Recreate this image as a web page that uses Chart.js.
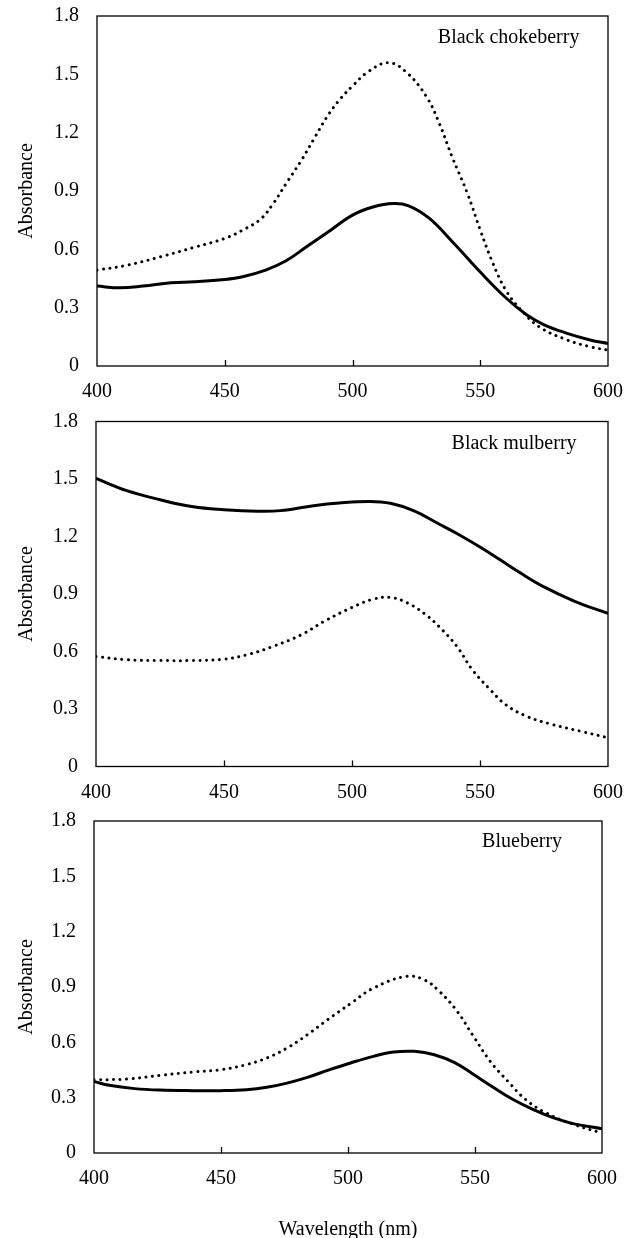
<!DOCTYPE html>
<html>
<head>
<meta charset="utf-8">
<script src="https://cdn.jsdelivr.net/npm/chart.js@4"></script>
<style>
  html, body { margin: 0; padding: 0; background: #fff; overflow: hidden; }
  body { width: 636px; height: 1238px; position: relative; }
  canvas { position: absolute; left: 0; }
</style>
</head>
<body>
<canvas id="c1"></canvas>
<canvas id="c2"></canvas>
<canvas id="c3"></canvas>
<script>
// axis ticks
const xTicks = [400, 450, 500, 550, 600];
const yTicks = [0, 0.3, 0.6, 0.9, 1.2, 1.5, 1.8];

// Black chokeberry
const chokeSolidWl = [400, 409, 418, 429, 438, 450, 457, 466, 474, 482, 490, 500, 508, 516, 522, 530, 540, 550, 560, 568, 575, 584, 593, 600];
const chokeSolidAbs = [0.411, 0.402, 0.411, 0.428, 0.433, 0.445, 0.459, 0.493, 0.541, 0.613, 0.685, 0.776, 0.818, 0.836, 0.824, 0.760, 0.626, 0.483, 0.351, 0.265, 0.212, 0.168, 0.134, 0.116];
const chokeDotWl = [400, 412, 425, 438, 450, 457, 464, 469, 474, 480, 485, 490, 495, 500, 506, 514, 521, 529, 534, 539, 545, 550, 555, 560, 566, 573, 584, 593, 600];
const chokeDotAbs = [0.493, 0.519, 0.562, 0.610, 0.656, 0.699, 0.755, 0.836, 0.938, 1.058, 1.170, 1.281, 1.370, 1.440, 1.512, 1.560, 1.512, 1.384, 1.247, 1.075, 0.887, 0.699, 0.527, 0.390, 0.288, 0.202, 0.134, 0.099, 0.082];

// Black mulberry
const mulSolidWl = [400, 412, 425, 438, 450, 463, 472, 485, 495, 507, 515, 524, 534, 542, 550, 558, 566, 575, 587, 600];
const mulSolidAbs = [1.503, 1.439, 1.392, 1.355, 1.340, 1.332, 1.335, 1.361, 1.375, 1.383, 1.373, 1.335, 1.265, 1.208, 1.145, 1.077, 1.008, 0.937, 0.862, 0.799];
const mulDotWl = [400, 412, 425, 438, 450, 459, 469, 480, 490, 500, 508, 515, 522, 529, 534, 541, 547, 554, 560, 568, 578, 589, 600];
const mulDotAbs = [0.574, 0.557, 0.553, 0.553, 0.560, 0.583, 0.626, 0.686, 0.764, 0.830, 0.872, 0.882, 0.851, 0.790, 0.730, 0.626, 0.505, 0.401, 0.323, 0.263, 0.220, 0.185, 0.150];

// Blueberry
const blueSolidWl = [400, 406, 416, 426, 439, 450, 460, 468, 476, 484, 492, 501, 510, 518, 526, 534, 542, 549, 557, 565, 573, 581, 589, 600];
const blueSolidAbs = [0.388, 0.367, 0.349, 0.341, 0.338, 0.338, 0.343, 0.356, 0.379, 0.410, 0.448, 0.488, 0.524, 0.547, 0.551, 0.533, 0.490, 0.430, 0.358, 0.290, 0.235, 0.190, 0.158, 0.132];
const blueDotWl = [400, 413, 426, 439, 450, 460, 468, 476, 484, 492, 501, 510, 523, 530, 536, 543, 549, 556, 563, 570, 578, 589, 600];
const blueDotAbs = [0.397, 0.401, 0.421, 0.439, 0.452, 0.479, 0.515, 0.569, 0.641, 0.723, 0.810, 0.894, 0.958, 0.939, 0.876, 0.768, 0.641, 0.497, 0.388, 0.289, 0.217, 0.154, 0.108];

const panelNames = ["Black chokeberry", "Black mulberry", "Blueberry"];
const xTitle = "Wavelength (nm)";
const yTitle = "Absorbance";

const FONT = '"Liberation Serif", "Times New Roman", serif';

function pts(xs, ys) {
    return xs.map((x, i) => ({ x: x, y: ys[i] }));
}

// frame, inward x ticks and panel name
const framePlugin = {
    id: "frame",
    afterDatasetsDraw(chart, args, opts) {
        let ctx = chart.ctx;
        let a = chart.chartArea;
        let xs = chart.scales.x;
        let ys = chart.scales.y;
        ctx.save();
        ctx.strokeStyle = "#000";
        ctx.lineWidth = 1.3;
        ctx.strokeRect(a.left, a.top, a.right - a.left, a.bottom - a.top);
        xTicks.slice(1, -1).forEach(v => {
            let px = Math.round(xs.getPixelForValue(v)) + 0.5;
            ctx.beginPath();
            ctx.moveTo(px, a.bottom);
            ctx.lineTo(px, a.bottom - 6);
            ctx.stroke();
        });
        ctx.fillStyle = "#000";
        ctx.font = "20px " + FONT;
        ctx.textAlign = "left";
        ctx.textBaseline = "middle";
        ctx.fillText(opts.text, xs.getPixelForValue(opts.at[0]), ys.getPixelForValue(opts.at[1]));
        ctx.restore();
    }
};

function makePanel(id, layout, name, labelAt, solid, dotted, showXTitle) {
    let cv = document.getElementById(id);
    cv.width = 636;
    cv.height = layout.h;
    cv.style.top = layout.top + "px";
    new Chart(cv, {
        type: "line",
        data: {
            datasets: [
                {
                    label: "solid",
                    data: solid,
                    borderColor: "#000",
                    borderWidth: 3,
                    pointRadius: 0,
                    tension: 0.4,
                    fill: false
                },
                {
                    label: "dotted",
                    data: dotted,
                    borderColor: "#000",
                    borderWidth: 3,
                    borderDash: [0.01, 6.5],
                    borderCapStyle: "round",
                    pointRadius: 0,
                    tension: 0.4,
                    fill: false
                }
            ]
        },
        options: {
            responsive: false,
            animation: false,
            layout: { padding: { top: layout.areaTop, right: 636 - layout.areaRight, left: 0, bottom: 0 } },
            plugins: {
                legend: { display: false },
                tooltip: { enabled: false },
                frame: { text: name, at: labelAt }
            },
            scales: {
                x: {
                    type: "linear",
                    min: 400,
                    max: 600,
                    afterBuildTicks: s => { s.ticks = xTicks.map(v => ({ value: v })); },
                    grid: { display: false, drawTicks: false },
                    border: { display: false },
                    ticks: { color: "#000", font: { family: FONT, size: 20 }, padding: 14, maxRotation: 0 },
                    title: {
                        display: showXTitle,
                        text: xTitle,
                        color: "#000",
                        font: { family: FONT, size: 20 },
                        padding: { top: 0, bottom: 4 }
                    },
                    afterFit: s => {
                        s.height = layout.h - layout.areaBottom;
                        s.paddingLeft = 0;
                        s.paddingRight = 0;
                    }
                },
                y: {
                    min: 0,
                    max: 1.8,
                    afterBuildTicks: s => { s.ticks = yTicks.map(v => ({ value: v })); },
                    grid: { display: false, drawTicks: false },
                    border: { display: false },
                    ticks: {
                        color: "#000",
                        font: { family: FONT, size: 20 },
                        padding: 18,
                        callback: v => v === 0 ? "0" : v.toFixed(1)
                    },
                    title: {
                        display: true,
                        text: yTitle,
                        color: "#000",
                        font: { family: FONT, size: 20 },
                        padding: { top: 15, bottom: 0 }
                    },
                    afterFit: s => {
                        s.width = layout.areaLeft;
                        s.paddingTop = 0;
                        s.paddingBottom = 0;
                    }
                }
            }
        },
        plugins: [framePlugin]
    });
}

makePanel("c1", { top: 0, h: 400, areaLeft: 97, areaRight: 608, areaTop: 16, areaBottom: 366 },
    panelNames[0], [533.4, 1.686], pts(chokeSolidWl, chokeSolidAbs), pts(chokeDotWl, chokeDotAbs), false);
makePanel("c2", { top: 402, h: 400, areaLeft: 96, areaRight: 608, areaTop: 19.5, areaBottom: 364.5 },
    panelNames[1], [538.9, 1.684], pts(mulSolidWl, mulSolidAbs), pts(mulDotWl, mulDotAbs), false);
makePanel("c3", { top: 806, h: 440, areaLeft: 94, areaRight: 602, areaTop: 15, areaBottom: 347 },
    panelNames[2], [552.8, 1.688], pts(blueSolidWl, blueSolidAbs), pts(blueDotWl, blueDotAbs), true);
</script>
</body>
</html>
